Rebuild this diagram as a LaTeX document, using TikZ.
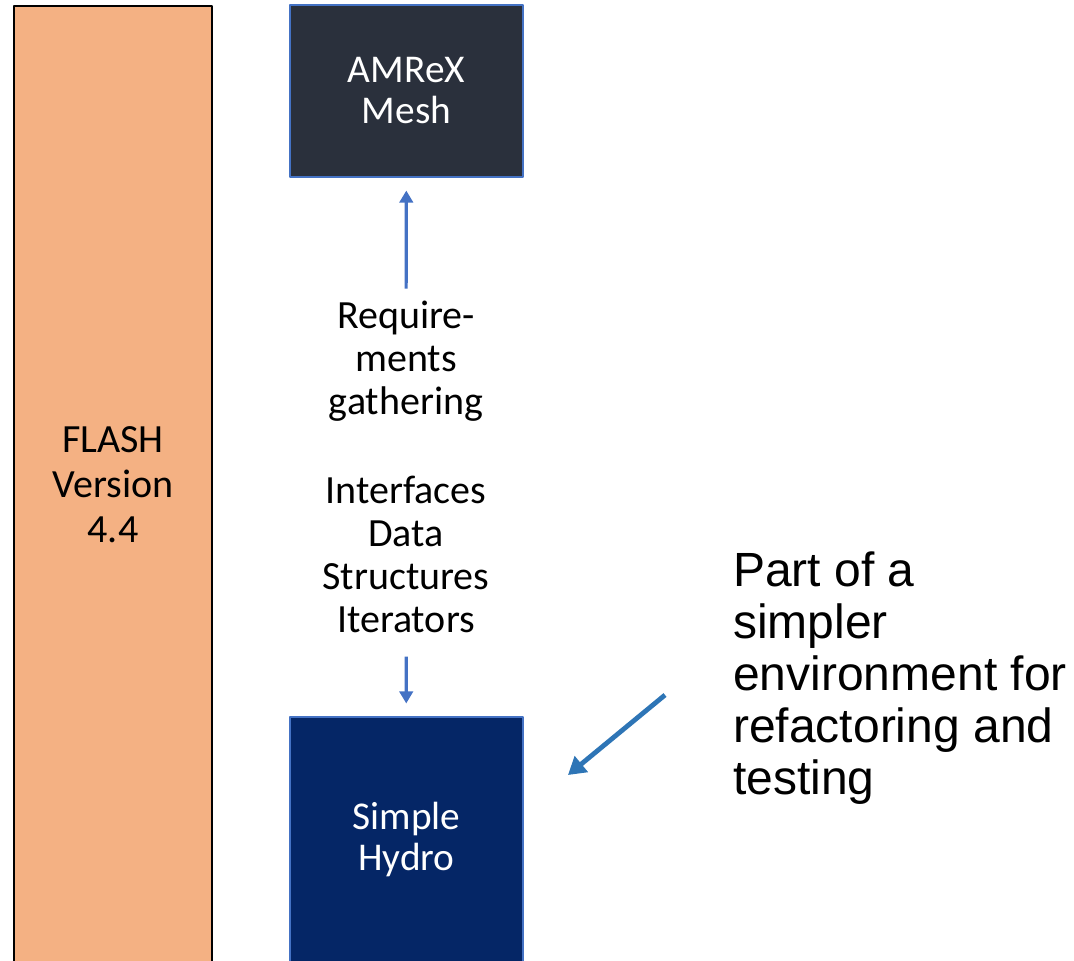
\documentclass[tikz,border=0pt]{standalone}
\usepackage{fontspec}
\setmainfont{Carlito}
\newfontfamily\notefont{Liberation Sans}
\usetikzlibrary{arrows.meta}
\definecolor{flashorange}{HTML}{F4B183}
\definecolor{meshgrey}{HTML}{2A303C}
\definecolor{hydroblue}{HTML}{052666}
\definecolor{edgeblue}{HTML}{4472C4}
\definecolor{noteblue}{HTML}{2E75B6}
\begin{document}
\begin{tikzpicture}[x=0.75pt,y=-0.75pt,line join=round,>=Triangle]
    \tikzset{box/.style={draw=edgeblue,line width=0.8pt,minimum width=174.75pt,inner sep=0pt,text=white,align=center,font=\fontsize{29.5}{30.75}\selectfont}}
    \tikzset{label style/.style={align=center,inner sep=0pt,font=\fontsize{30}{32.25}\selectfont}}
    \tikzset{flow/.style={->,draw=edgeblue,line width=2.4pt,shorten >=9.75pt,-{Triangle[width=10pt,length=9pt]}}}
    \useasboundingbox (0,0) rectangle (1074,960);
    \clip (0,0) rectangle (1074,960);
    \node[draw=black,line width=1.3pt,fill=flashorange,minimum width=148.5pt,minimum height=718.5pt,inner sep=0pt,align=center,font=\fontsize{30}{33.75}\selectfont] (flash) at (113,485) {FLASH\\Version\\4.4};
    \node[box,fill=meshgrey,minimum height=129pt] (amrex) at (406.5,91) {AMReX\\Mesh};
    \node[box,fill=hydroblue,minimum height=184.5pt] (hydro) at (406.5,840) {Simple\\Hydro};
    \node[label style] (req) at (406,361) {Require-\\ments\\gathering};
    \node[label style] (iface) at (406,554) {Interfaces\\Data\\Structures\\Iterators};
    \node[anchor=west,align=left,inner sep=0pt,font=\notefont\fontsize{36}{39}\selectfont] (note) at (733,678) {Part of a\\simpler\\environment for\\refactoring and\\testing};
    \draw[flow,shorten <=9pt] (req) -- (amrex);
    \draw[flow,shorten <=18pt] (iface) -- (hydro);
    \coordinate (tail) at (665,695);
    \coordinate (head) at (568,775);
    \draw[draw=noteblue,line width=3.6pt,-{Triangle[width=15pt,length=13pt]}] (tail) -- (head);
\end{tikzpicture}
\end{document}
